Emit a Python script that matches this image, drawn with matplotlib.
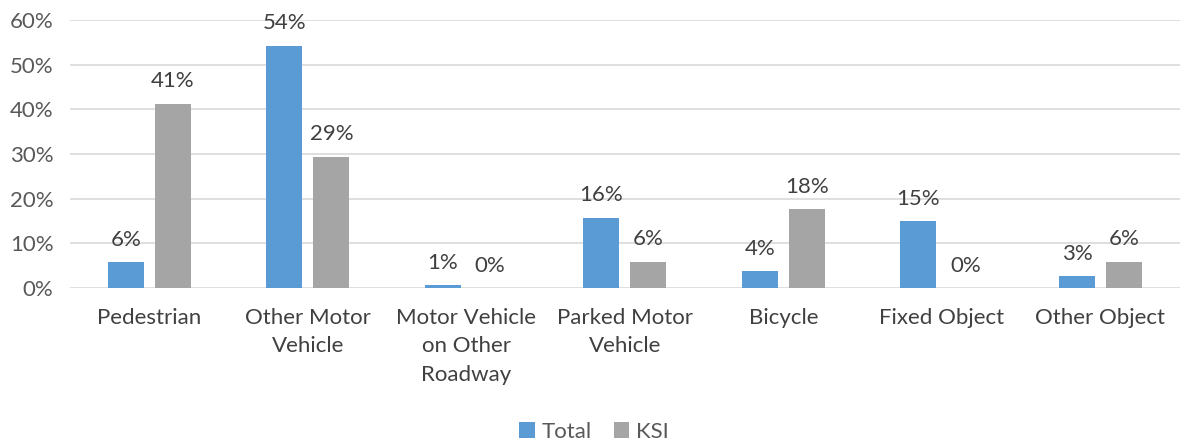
import numpy as np
import matplotlib.pyplot as plt

categories = ["Pedestrian", "Other Motor\nVehicle", "Motor Vehicle\non Other\nRoadway",
              "Parked Motor\nVehicle", "Bicycle", "Fixed Object", "Other Object"]
total = [5.8, 54.2, 0.7, 15.7, 3.8, 15.0, 2.7]
ksi = [41.2, 29.4, 0.0, 5.9, 17.6, 0.0, 5.9]
total_labels = ["6%", "54%", "1%", "16%", "4%", "15%", "3%"]
ksi_labels = ["41%", "29%", "0%", "6%", "18%", "0%", "6%"]

plt.rcParams['font.family'] = ['Lato', 'DejaVu Sans']
txt = "#595959"
fs = 16

fig = plt.figure(figsize=(11.88, 4.42), dpi=100)
ax = fig.add_axes([0.059, 0.348, 0.934, 0.607])

x = np.arange(len(categories))
w = 0.227
off = 0.148
b1 = ax.bar(x - off, total, w, color="#5B9BD5", label="Total", zorder=3)
b2 = ax.bar(x + off, ksi, w, color="#A5A5A5", label="KSI", zorder=3)

# data labels above each bar
for bars, labs in ((b1, total_labels), (b2, ksi_labels)):
    for rect, lab in zip(bars, labs):
        ax.annotate(lab, (rect.get_x() + rect.get_width() / 2, rect.get_height()),
                    xytext=(0, 9), textcoords="offset points", ha="center", va="bottom",
                    fontsize=fs, color="#404040")

ax.set_xlim(-0.5, len(categories) - 0.5)
ax.set_ylim(0, 60)
ax.set_yticks(range(0, 61, 10))
ax.set_yticklabels([f"{v}%" for v in range(0, 61, 10)], fontsize=fs, color=txt)
ax.set_xticks(x)
ax.set_xticklabels(categories, fontsize=fs, color="#404040", linespacing=1.55)
ax.tick_params(length=0, pad=14)
ax.tick_params(axis="y", pad=12)
ax.grid(axis="y", color="#D9D9D9", linewidth=1.2, zorder=0)
for s in ax.spines.values():
    s.set_visible(False)

fig.legend(handles=[b1, b2], loc="lower center", bbox_to_anchor=(0.5, -0.045), ncol=2,
           frameon=False, fontsize=fs, handlelength=0.7, handleheight=0.7,
           handletextpad=0.3, columnspacing=1.0, labelcolor="#595959")

fig.savefig("out.png", dpi=100)
